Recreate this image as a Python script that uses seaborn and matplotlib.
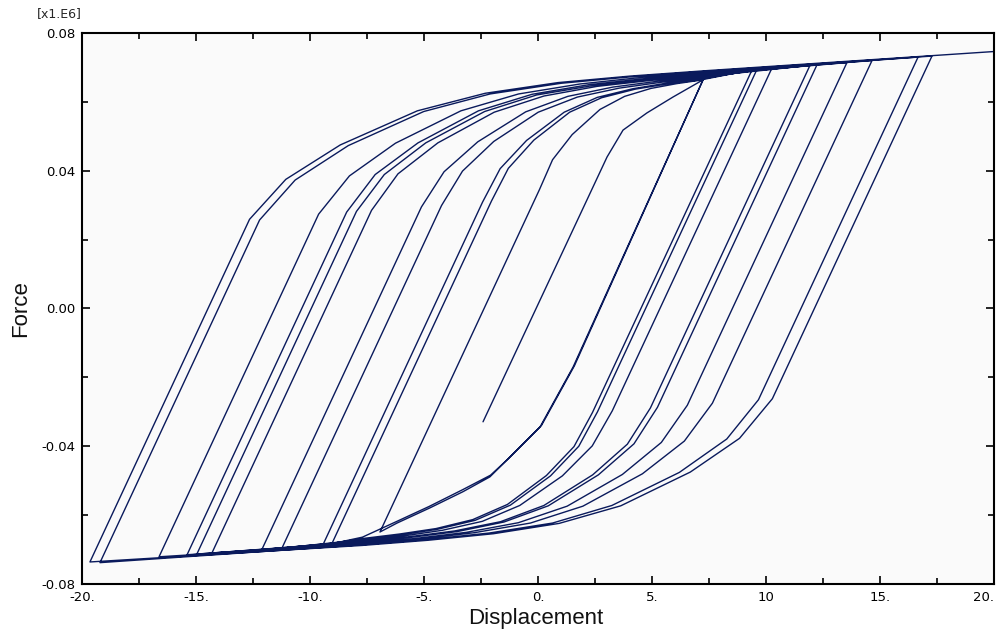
import pandas as pd
import matplotlib.pyplot as plt
import seaborn as sns
from matplotlib.ticker import MultipleLocator, FixedLocator

# Load path (displacement, force in x1.E6)
disp = [
    # initial loading
    -2.41, 3.03, 3.73, 4.78, 5.92, 7.24,
    # unload 1 / reload 1
    1.54, 0.09, -1.36, -2.11, -3.29, -4.74, -6.18, -6.93,
    0.07, 0.64, 1.50, 2.72, 3.80, 4.95, 6.09, 7.24,
    # cycle 2
    1.60, 0.15, -1.30, -2.08, -3.30, -4.78, -6.25, -7.70, -9.04,
    -2.04, -1.30, -0.18, 1.39, 2.79, 4.27, 5.76, 7.24, 9.39,
    # cycle 3
    2.39, 1.58, 0.37, -1.34, -2.86, -4.47, -6.09, -7.70, -9.43,
    -2.43, -1.66, -0.50, 1.15, 2.60, 4.15, 5.69, 7.24, 9.61,
    # cycle 4
    2.61, 1.79, 0.55, -1.21, -2.75, -4.40, -6.05, -7.70, -11.23,
    -4.23, -3.31, -1.94, 0.01, 1.73, 3.57, 5.41, 7.24, 10.26,
    # cycle 5
    3.26, 2.38, 1.07, -0.80, -2.44, -4.19, -5.95, -7.70, -12.11,
    -5.11, -4.12, -2.64, -0.54, 1.31, 3.29, 5.26, 7.24, 11.93,
    # cycle 6
    4.93, 3.92, 2.40, 0.26, -1.64, -3.66, -5.68, -7.70, -14.30,
    -7.30, -6.14, -4.39, -1.92, 0.26, 2.59, 4.91, 7.24, 12.24,
    # cycle 7
    5.24, 4.21, 2.65, 0.45, -1.49, -3.56, -5.63, -7.70, -14.96,
    -7.96, -6.74, -4.92, -2.34, -0.06, 2.38, 4.81, 7.24, 13.55,
    # cycle 8
    6.55, 5.41, 3.70, 1.28, -0.86, -3.14, -5.42, -7.70, -15.39,
    -8.39, -7.14, -5.26, -2.61, -0.26, 2.24, 4.74, 7.24, 14.65,
    # cycle 9
    7.65, 6.42, 4.58, 1.97, -0.33, -2.79, -5.24, -7.70, -16.62,
    -9.62, -8.27, -6.25, -3.38, -0.85, 1.85, 4.54, 7.24, 16.67,
    # cycle 10
    9.67, 8.28, 6.20, 3.24, 0.64, -2.14, -4.92, -7.70, -19.21,
    -12.21, -10.65, -8.32, -5.01, -2.10, 1.02, 4.13, 7.24, 17.28,
    # cycle 11 and final loading
    10.28, 8.84, 6.68, 3.63, 0.93, -1.95, -4.82, -7.70, -19.65,
    -12.65, -11.06, -8.67, -5.29, -2.31, 0.88, 4.06, 7.24, 19.96,
]
force = [
    -0.0329, 0.0440, 0.0518, 0.0568, 0.0614, 0.0664,
    -0.0170, -0.0344, -0.0440, -0.0489, -0.0532, -0.0579, -0.0623, -0.0649,
    0.0346, 0.0432, 0.0505, 0.0578, 0.0616, 0.0639, 0.0653, 0.0664,
    -0.0166, -0.0340, -0.0436, -0.0484, -0.0526, -0.0575, -0.0620, -0.0664, -0.0683,
    0.0312, 0.0407, 0.0489, 0.0570, 0.0612, 0.0637, 0.0653, 0.0665, 0.0693,
    -0.0302, -0.0401, -0.0485, -0.0569, -0.0613, -0.0639, -0.0655, -0.0668, -0.0686,
    0.0309, 0.0406, 0.0488, 0.0570, 0.0613, 0.0638, 0.0655, 0.0667, 0.0695,
    -0.0300, -0.0400, -0.0486, -0.0571, -0.0615, -0.0641, -0.0658, -0.0671, -0.0696,
    0.0299, 0.0399, 0.0485, 0.0570, 0.0614, 0.0640, 0.0657, 0.0670, 0.0698,
    -0.0297, -0.0399, -0.0486, -0.0572, -0.0618, -0.0644, -0.0661, -0.0674, -0.0700,
    0.0295, 0.0397, 0.0484, 0.0571, 0.0616, 0.0643, 0.0660, 0.0673, 0.0706,
    -0.0289, -0.0394, -0.0483, -0.0572, -0.0619, -0.0646, -0.0663, -0.0677, -0.0710,
    0.0285, 0.0391, 0.0481, 0.0570, 0.0617, 0.0645, 0.0662, 0.0676, 0.0708,
    -0.0287, -0.0393, -0.0483, -0.0573, -0.0620, -0.0648, -0.0665, -0.0679, -0.0713,
    0.0282, 0.0389, 0.0481, 0.0572, 0.0620, 0.0647, 0.0665, 0.0679, 0.0714,
    -0.0281, -0.0389, -0.0482, -0.0574, -0.0622, -0.0650, -0.0668, -0.0682, -0.0715,
    0.0280, 0.0389, 0.0481, 0.0574, 0.0622, 0.0650, 0.0668, 0.0682, 0.0720,
    -0.0275, -0.0385, -0.0480, -0.0574, -0.0623, -0.0651, -0.0670, -0.0684, -0.0721,
    0.0274, 0.0385, 0.0480, 0.0574, 0.0623, 0.0652, 0.0671, 0.0685, 0.0730,
    -0.0265, -0.0379, -0.0476, -0.0572, -0.0623, -0.0652, -0.0671, -0.0686, -0.0738,
    0.0257, 0.0373, 0.0473, 0.0572, 0.0623, 0.0654, 0.0673, 0.0688, 0.0733,
    -0.0262, -0.0377, -0.0475, -0.0573, -0.0624, -0.0654, -0.0673, -0.0688, -0.0736,
    0.0259, 0.0375, 0.0475, 0.0574, 0.0625, 0.0656, 0.0675, 0.0690, 0.0746,
]

x_ticks = [-20, -15, -10, -5, 0, 5, 10, 15, 20]
x_labels = ['-20.', '-15.', '-10.', '-5.', '0.', '5.', '10', '15.', '20.']
y_ticks = [-0.08, -0.04, 0.0, 0.04, 0.08]
y_labels = ['-0.08', '-0.04', '0.00', '0.04', '0.08']

df = pd.DataFrame({'Displacement': disp, 'Force': force})

sns.set_style('ticks')
plt.rcParams['font.family'] = ['DejaVu Sans']

fig = plt.figure(figsize=(10.02, 6.37), dpi=100)
ax = fig.add_axes([0.0818, 0.0832, 0.9102, 0.8650])
ax.set_facecolor('#fafafa')

sns.lineplot(data=df, x='Displacement', y='Force', sort=False, estimator=None,
             color='#0a1a5c', linewidth=1.0, ax=ax)

ax.set_xlim(-20, 20)
ax.set_ylim(-0.08, 0.08)
ax.xaxis.set_major_locator(FixedLocator(x_ticks))
ax.set_xticklabels(x_labels)
ax.xaxis.set_minor_locator(MultipleLocator(2.5))
ax.yaxis.set_major_locator(FixedLocator(y_ticks))
ax.set_yticklabels(y_labels)
ax.yaxis.set_minor_locator(MultipleLocator(0.02))

ax.tick_params(which='both', direction='in', top=True, right=True,
               colors='black', labelsize=9.5, width=1.2)
ax.tick_params(which='major', length=6, pad=5)
ax.tick_params(which='minor', length=4)
for s in ax.spines.values():
    s.set_color('black')
    s.set_linewidth(1.5)

# last label sits against the right edge, as in the original
ax.get_xticklabels()[-1].set_ha('right')

ax.set_xlabel('Displacement', fontsize=16, family='Liberation Sans', color='#111111')
ax.set_ylabel('Force', fontsize=16, family='Liberation Sans', color='#111111')
ax.xaxis.set_label_coords(0.498, -0.044)
ax.yaxis.set_label_coords(-0.056, 0.5)

fig.text(0.037, 0.978, '[x1.E6]', fontsize=9, ha='left', va='center')

fig.savefig('out.png', dpi=100)
